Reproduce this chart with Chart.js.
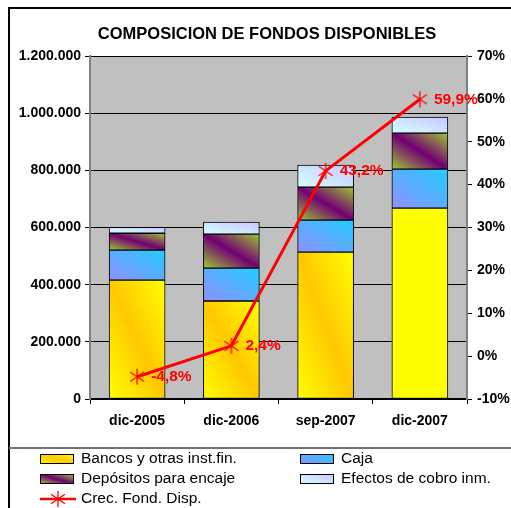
<!DOCTYPE html>
<html>
<head>
<meta charset="utf-8">
<script src="https://cdn.jsdelivr.net/npm/chart.js@4/dist/chart.umd.min.js"></script>
<style>
  body { margin: 0; background: #fff; }
  #wrap { width: 511px; height: 508px; position: relative; }
</style>
</head>
<body>
<div id="wrap"><canvas id="myChart"></canvas></div>
<script>
const categories = ['dic-2005', 'dic-2006', 'sep-2007', 'dic-2007'];
const bancos = [416000, 343000, 514000, 668000];
const caja = [105000, 115000, 112000, 136000];
const depositos = [59000, 119000, 115000, 126000];
const efectos = [21000, 42000, 77000, 56000];
const crecimiento = [-4.8, 2.4, 43.2, 59.9];
const crecLabels = ['-4,8%', '2,4%', '43,2%', '59,9%'];
const titleText = 'COMPOSICION DE FONDOS DISPONIBLES';

const stacks = [bancos, caja, depositos, efectos];
const FONT = '"Liberation Sans", Arial, sans-serif';
const BAR_W = 56;

// diagonal gradient: band running from top-left to bottom-right corner
function diag(ctx, x0, yTop, x1, yBot, stops) {
    const w = x1 - x0, h = yBot - yTop;
    const cx = (x0 + x1) / 2, cy = (yTop + yBot) / 2;
    const L = Math.hypot(w, h) || 1;
    const k = w * h / L;
    const g = ctx.createLinearGradient(cx - k * h / L, cy + k * w / L, cx + k * h / L, cy - k * w / L);
    stops.forEach(s => g.addColorStop(s[0], s[1]));
    return g;
}

const kinds = [
    {flat: '#ffff00', stops: [[0, '#ffff00'], [0.5, '#ffc800'], [1, '#ffff00']]},
    {flat: '#5ab0ff', stops: [[0, '#9090ff'], [1, '#20ccff']]},
    {flat: '#804080', stops: [[0, '#9cc832'], [0.5, '#720074'], [1, '#9cc832']]},
    {flat: '#ccecff', stops: [[0, '#d4ffff'], [1, '#c8c8ff']]}
];

function fillFor(kind, ctx, x0, yTop, x1, yBot) {
    return diag(ctx, x0, yTop, x1, yBot, kinds[kind].stops);
}

function barFill(c) {
    const kind = c.datasetIndex;
    if (c.type !== 'data') return kinds[kind].flat;
    const chart = c.chart;
    const xs = chart.scales.x, ys = chart.scales.y;
    if (!xs || !ys || !chart.chartArea) return kinds[kind].flat;
    const i = c.dataIndex;
    if (kind === 0 && i === 3) return '#ffff00';
    let base = 0;
    for (let d = 0; d < kind; d++) base += stacks[d][i];
    const top = base + stacks[kind][i];
    const xc = xs.getPixelForValue(i);
    return fillFor(kind, chart.ctx, xc - BAR_W / 2, ys.getPixelForValue(top), xc + BAR_W / 2, ys.getPixelForValue(base));
}

// asterisk marker
function makeStar(size, color) {
    const cv = document.createElement('canvas');
    cv.width = size; cv.height = size;
    const g = cv.getContext('2d');
    g.strokeStyle = color; g.lineWidth = 1.3;
    const r = size / 2 - 1, c = size / 2;
    g.beginPath();
    g.moveTo(c, c - r); g.lineTo(c, c + r);
    g.moveTo(c - r * 0.87, c - r * 0.6); g.lineTo(c + r * 0.87, c + r * 0.6);
    g.moveTo(c - r * 0.87, c + r * 0.6); g.lineTo(c + r * 0.87, c - r * 0.6);
    g.stroke();
    return cv;
}
const star = makeStar(18, '#ff0000');

function fmt(v) { return String(v).replace(/\B(?=(\d{3})+(?!\d))/g, '.'); }

const decor = {
    id: 'decor',
    beforeDraw(chart) {
        const {ctx, chartArea: a} = chart;
        ctx.save();
        ctx.fillStyle = '#ffffff';
        ctx.fillRect(0, 0, chart.width, chart.height);
        ctx.fillStyle = '#c0c0c0';
        ctx.fillRect(a.left, a.top, a.right - a.left, a.bottom - a.top);
        ctx.restore();
    },
    afterDatasetsDraw(chart) {
        const ctx = chart.ctx;
        const meta = chart.getDatasetMeta(4);
        ctx.save();
        ctx.fillStyle = '#ff0000';
        ctx.font = 'bold 15.5px ' + FONT;
        ctx.textAlign = 'left';
        ctx.textBaseline = 'middle';
        meta.data.forEach((p, i) => ctx.fillText(crecLabels[i], p.x + 14, p.y));
        ctx.restore();
    },
    afterDraw(chart) {
        const ctx = chart.ctx;
        ctx.save();
        // outer frame
        ctx.strokeStyle = '#000';
        ctx.lineWidth = 2;
        ctx.beginPath();
        ctx.moveTo(9, 508); ctx.lineTo(9, 8); ctx.lineTo(511, 8);
        ctx.stroke();
        ctx.strokeStyle = '#707070';
        ctx.beginPath();
        ctx.moveTo(9, 448); ctx.lineTo(511, 448);
        ctx.stroke();
        // title
        ctx.fillStyle = '#000';
        ctx.font = 'bold 16.5px ' + FONT;
        ctx.textAlign = 'center';
        ctx.textBaseline = 'middle';
        ctx.fillText(titleText, 267, 34);
        // legend
        const items = [
            {i: 0, x: 40, y: 459}, {i: 1, x: 300, y: 459},
            {i: 2, x: 40, y: 479}, {i: 3, x: 300, y: 479},
            {i: 4, x: 40, y: 499}
        ];
        ctx.font = '15.5px ' + FONT;
        ctx.textAlign = 'left';
        items.forEach(it => {
            const ds = chart.data.datasets[it.i];
            if (it.i < 4) {
                ctx.fillStyle = fillFor(it.i, ctx, it.x, it.y - 5, it.x + 33, it.y + 5);
                ctx.fillRect(it.x, it.y - 5, 33, 10);
                ctx.strokeStyle = '#000';
                ctx.lineWidth = 1;
                ctx.strokeRect(it.x + 0.5, it.y - 4.5, 33, 9);
            } else {
                ctx.strokeStyle = '#ff0000';
                ctx.lineWidth = 2.5;
                ctx.beginPath();
                ctx.moveTo(it.x, it.y); ctx.lineTo(it.x + 36, it.y);
                ctx.stroke();
                ctx.drawImage(star, it.x + 18 - 9, it.y - 9);
            }
            ctx.fillStyle = '#000';
            ctx.fillText(ds.label, it.x + 41, it.y);
        });
        ctx.restore();
    }
};

const barDefaults = {
    type: 'bar',
    yAxisID: 'y',
    borderColor: '#000000',
    borderWidth: 1,
    borderSkipped: false,
    backgroundColor: barFill,
    barThickness: BAR_W
};

const chart = new Chart(document.getElementById('myChart'), {
    data: {
        labels: categories,
        datasets: [
            Object.assign({label: 'Bancos y otras inst.fin.', data: bancos}, barDefaults),
            Object.assign({label: 'Caja', data: caja}, barDefaults),
            Object.assign({label: 'Depósitos para encaje', data: depositos}, barDefaults),
            Object.assign({label: 'Efectos de cobro inm.', data: efectos}, barDefaults),
            {
                type: 'line',
                label: 'Crec. Fond. Disp.',
                data: crecimiento,
                yAxisID: 'y1',
                order: -1,
                borderColor: '#ff0000',
                borderWidth: 3,
                pointStyle: star,
                pointRadius: 9,
                fill: false,
                tension: 0
            }
        ]
    },
    options: {
        responsive: true,
        maintainAspectRatio: false,
        animation: false,
        layout: {padding: {top: 56, left: 0, right: 0, bottom: 0}},
        plugins: {
            legend: {display: false},
            title: {display: false},
            tooltip: {enabled: false}
        },
        scales: {
            x: {
                stacked: true,
                afterFit(s) { s.height = 109; },
                grid: {display: true, drawOnChartArea: false, color: '#000', tickLength: 5, offset: true},
                border: {display: true, color: '#000', width: 1.5},
                ticks: {
                    color: '#000',
                    padding: 9,
                    font: {family: FONT, size: 14, weight: 'bold'}
                }
            },
            y: {
                stacked: true,
                position: 'left',
                min: 0,
                max: 1200000,
                afterFit(s) { s.width = 90; },
                grid: {color: '#000', lineWidth: 1, tickLength: 5},
                border: {display: true, color: '#808080', width: 2},
                ticks: {
                    stepSize: 200000,
                    color: '#000',
                    padding: 4,
                    font: {family: FONT, size: 14, weight: 'bold'},
                    callback: v => fmt(v)
                }
            },
            y1: {
                position: 'right',
                min: -10,
                max: 70,
                afterFit(s) { s.width = 44; },
                grid: {drawOnChartArea: false, color: '#000', tickLength: 5},
                border: {display: true, color: '#808080', width: 2},
                ticks: {
                    stepSize: 10,
                    color: '#000',
                    padding: 5,
                    font: {family: FONT, size: 14, weight: 'bold'},
                    callback: v => v + '%'
                }
            }
        }
    },
    plugins: [decor]
});
</script>
</body>
</html>
